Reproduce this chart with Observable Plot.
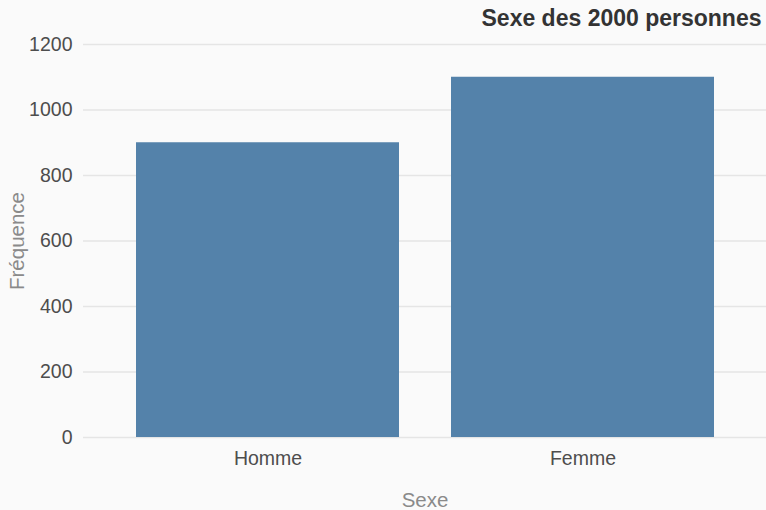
<!DOCTYPE html>
<html>
<head>
<meta charset="utf-8">
<script src="https://cdn.jsdelivr.net/npm/d3@7"></script>
<script src="https://cdn.jsdelivr.net/npm/@observablehq/plot@0.6"></script>
<style>
  html, body { margin: 0; padding: 0; background: #fafafa; }
  #chart svg { display: block; }
</style>
</head>
<body>
<div id="chart"></div>
<script>
const categories = ["Homme", "Femme"];
const counts = [900, 1100];
const yTicks = [0, 200, 400, 600, 800, 1000, 1200];
const title = "Sexe des 2000 personnes";
const xLabel = "Sexe";
const yLabel = "Fréquence";

const data = categories.map((c, i) => ({sexe: c, n: counts[i]}));

const chart = Plot.plot({
  width: 766,
  height: 510,
  marginTop: 44,
  marginBottom: 73,
  marginLeft: 83,
  marginRight: 0,
  style: {background: "#fafafa", fontFamily: "'Liberation Sans', Arial, sans-serif", fontSize: "19.5px"},
  x: {domain: categories, padding: 0.166, label: null},
  y: {domain: [0, 1200], label: null},
  marks: [
    Plot.gridY(yTicks, {stroke: "#e5e5e5", strokeOpacity: 1, strokeWidth: 1.6}),
    Plot.barY(data, {x: "sexe", y: "n", fill: "#5482aa"}),
    Plot.axisY(yTicks, {tickSize: 0, tickPadding: 11, fill: "#4d4d4d", label: null, tickFormat: d => String(d), fontSize: "19.5px"}),
    Plot.axisX({tickSize: 0, tickPadding: 14, fill: "#4d4d4d", label: null, fontSize: "19.5px"}),
    Plot.text([yLabel], {text: d => d, frameAnchor: "left", textAnchor: "middle", lineAnchor: "middle", rotate: -90, dx: -66, fill: "#8a8a8a", fontSize: "20.5px"}),
    Plot.text([xLabel], {text: d => d, frameAnchor: "bottom", textAnchor: "middle", lineAnchor: "middle", dy: 63, fill: "#8a8a8a", fontSize: "20.5px"}),
    Plot.text([title], {text: d => d, frameAnchor: "top-right", textAnchor: "end", lineAnchor: "middle", dx: -5, dy: -26, fill: "#333333", fontWeight: "bold", fontSize: "23px"})
  ]
});
document.getElementById("chart").append(chart);
</script>
</body>
</html>
